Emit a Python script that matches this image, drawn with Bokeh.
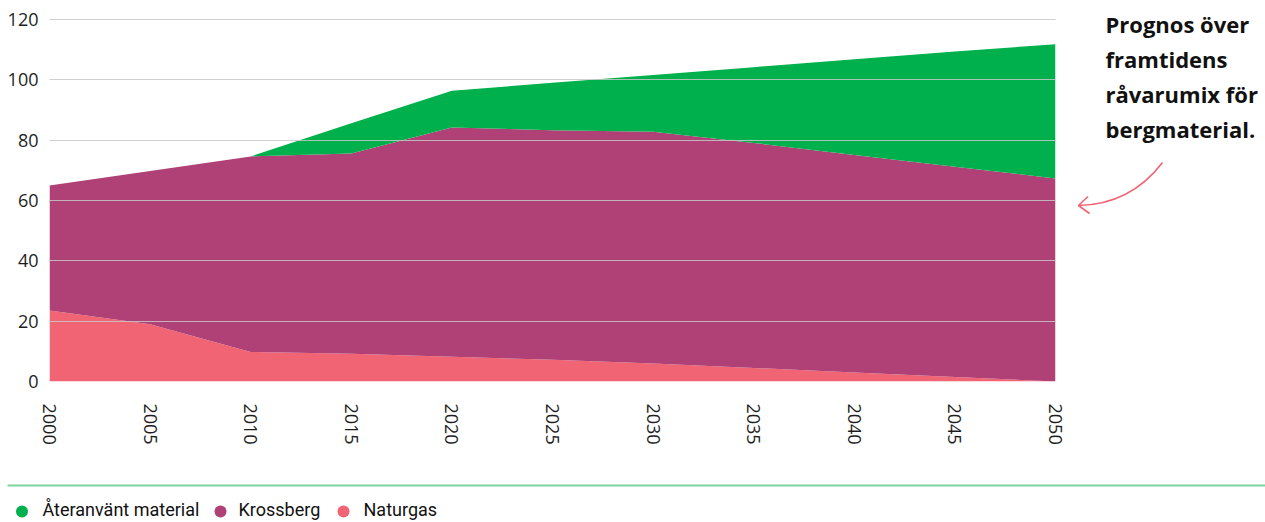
from bokeh.plotting import figure
from bokeh.layouts import row, column
from bokeh.models import ColumnDataSource, FixedTicker, Range1d, Label
from bokeh.core.properties import value
from bokeh.embed import file_html
from bokeh.resources import INLINE

# ---------------- data ----------------
years = [2000, 2005, 2010, 2015, 2020, 2025, 2030, 2035, 2040, 2045, 2050]
naturgas = [23.5, 19.0, 9.8, 9.2, 8.2, 7.2, 6.0, 4.5, 3.0, 1.5, 0.0]
krossberg = [41.5, 50.8, 64.8, 66.4, 76.0, 76.1, 76.8, 74.6, 72.1, 69.7, 67.3]
ateranvant = [0.0, 0.0, 0.0, 10.0, 12.2, 15.7, 18.8, 25.1, 31.7, 38.2, 44.5]
series_names = ["Återanvänt material", "Krossberg", "Naturgas"]
series_colors = ["#00b04c", "#b04176", "#f16473"]
y_ticks = [0, 20, 40, 60, 80, 100, 120]
x_ticks = [2000, 2005, 2010, 2015, 2020, 2025, 2030, 2035, 2040, 2045, 2050]
note_lines = ["Prognos över", "framtidens", "råvarumix för", "bergmaterial."]

TEXT = "#1e1e1e"
ARROW = "#f06472"

# ---------------- main chart ----------------
# frame spans page y 0..381; 120 sits at y=19 (362 px for 120 units)
y_top = 381 / (362 / 120)
p = figure(width=1069, height=470,
           x_range=Range1d(2000, 2050), y_range=Range1d(0, y_top),
           output_backend="svg", toolbar_location=None,
           min_border_left=49, min_border_right=14,
           min_border_top=0, min_border_bottom=89,
           outline_line_color=None, background_fill_color="white",
           border_fill_color="white")

src = ColumnDataSource(dict(year=years, nat=naturgas, kross=krossberg, ater=ateranvant))
p.varea_stack(["nat", "kross", "ater"], x="year", source=src,
              color=[series_colors[2], series_colors[1], series_colors[0]])

p.xgrid.visible = False
p.ygrid.ticker = FixedTicker(ticks=[t for t in y_ticks if t > 0])
p.ygrid.level = "overlay"
p.ygrid.grid_line_color = "#c8c8c8"
p.ygrid.grid_line_alpha = 0.85
p.ygrid.grid_line_width = 1

p.yaxis.ticker = FixedTicker(ticks=y_ticks)
p.xaxis.ticker = FixedTicker(ticks=x_ticks)
for ax in (p.xaxis, p.yaxis):
    ax.axis_line_color = None
    ax.major_tick_line_color = None
    ax.minor_tick_line_color = None
    ax.major_tick_out = 0
    ax.major_tick_in = 0
    ax.major_label_text_font = "Open Sans"
    ax.major_label_text_font_size = "18px"
    ax.major_label_text_color = TEXT
p.yaxis.major_label_standoff = 11
p.xaxis.major_label_standoff = 22
p.xaxis.major_label_orientation = "vertical"

# ---------------- note panel (right) ----------------
# its frame is aligned with the main frame (page y 0..381), so use page pixels as data
pn = figure(width=196, height=470,
            x_range=Range1d(1069, 1265), y_range=Range1d(381, 0),
            x_axis_location=None, y_axis_location=None,
            min_border_left=0, min_border_right=0,
            min_border_top=0, min_border_bottom=89,
            output_backend="svg", toolbar_location=None,
            outline_line_color=None, border_fill_color="white")
pn.grid.visible = False
for txt, yy in zip(note_lines, [23.5, 58.5, 93, 128]):
    pn.add_layout(Label(x=1105, y=yy, text=txt, text_font="Open Sans",
                        text_font_style="bold", text_font_size="22px",
                        text_color="#111111", text_baseline="alphabetic"))
pn.quadratic(x0=[1162], y0=[162], x1=[1078], y1=[205], cx=[1130], cy=[204],
             line_color=ARROW, line_width=1.6)
pn.segment(x0=[1078, 1078], y0=[205, 205], x1=[1087.5, 1089], y1=[196, 213],
           line_color=ARROW, line_width=1.6)

# ---------------- legend strip ----------------
pl = figure(width=1265, height=52,
            x_range=Range1d(0, 1265), y_range=Range1d(522, 470),
            x_axis_location=None, y_axis_location=None, min_border=0,
            output_backend="svg", toolbar_location=None,
            outline_line_color=None, border_fill_color="white")
pl.grid.visible = False
pl.segment(x0=[7], y0=[485], x1=[1265], y1=[485], line_color="#7dd3a0", line_width=2)
pl.scatter(x=[21.5, 220, 343], y=[511] * 3, size=12, marker="circle",
           color=series_colors, line_color=None)
pl.text(x=[42, 238, 363], y=[509] * 3, text=series_names,
        text_font=value("Roboto"), text_font_size="18px",
        text_color="#111111", text_baseline="alphabetic")

layout = column(row(p, pn), pl)

with open("out.html", "w") as f:
    f.write(file_html(layout, INLINE))
